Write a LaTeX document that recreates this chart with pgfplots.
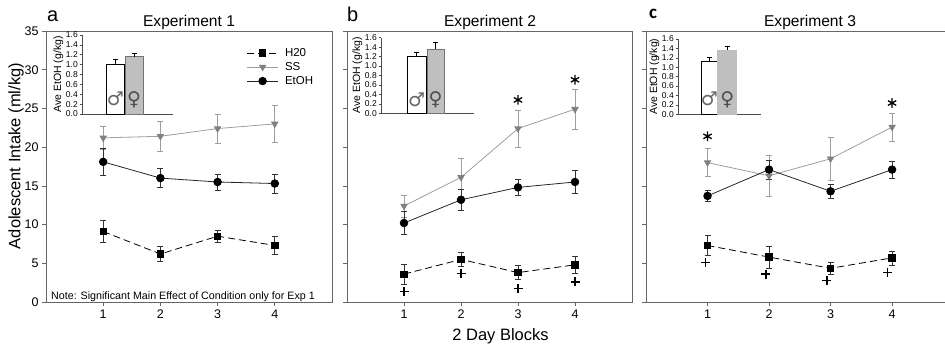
\documentclass[border=0pt]{standalone}
\usepackage{pgfplots}
\pgfplotsset{compat=1.18}
\usepackage{fontspec}
\setmainfont{Liberation Sans}
\newfontfamily\dejavu{DejaVu Sans}
\newfontfamily\carlito{Carlito}
\definecolor{axgray}{gray}{0.4}
\definecolor{ssline}{gray}{0.62}
\definecolor{ssmark}{gray}{0.5}
\definecolor{barfill}{gray}{0.75}
\pgfplotsset{
  mainax/.style={
    scale only axis, height=271pt, ymin=0, ymax=35, xmin=0, xmax=5,
    xtick={1,2,3,4}, ytick={0,5,10,15,20,25,30,35},
    tick align=outside, xtick pos=bottom, ytick pos=left, major tick length=4pt,
    axis line style={draw=axgray, line width=0.7pt},
    every tick/.style={axgray, line width=0.6pt},
    tick label style={font=\fontsize{12.5}{12.5}\selectfont, /pgf/number format/assume math mode=true},
    clip=false,
  },
  h2o/.style={black, dash pattern=on 7pt off 4pt, line width=0.8pt, mark=square*, mark size=3.2pt,
    mark options={solid, fill=black},
    error bars/y dir=both, error bars/y explicit,
    error bars/error bar style={solid, line width=0.6pt, black!80},
    error bars/error mark options={solid, rotate=90, mark size=3pt, line width=0.6pt, black!80}},
  ss/.style={ssline, line width=0.8pt, mark=triangle*, mark size=3.6pt,
    mark options={solid, rotate=180, fill=ssmark, draw=ssmark},
    error bars/y dir=both, error bars/y explicit,
    error bars/error bar style={solid, line width=0.6pt, ssline},
    error bars/error mark options={solid, rotate=90, mark size=3pt, line width=0.6pt, ssline}},
  etoh/.style={black!85, line width=0.8pt, mark=*, mark size=3.8pt,
    mark options={solid, fill=black, draw=black},
    error bars/y dir=both, error bars/y explicit,
    error bars/error bar style={solid, line width=0.6pt, black!80},
    error bars/error mark options={solid, rotate=90, mark size=3pt, line width=0.6pt, black!80}},
  plusm/.style={only marks, mark=+, mark size=4.5pt, black, line width=1.3pt},
  starm/.style={only marks, mark=asterisk, mark size=4.8pt, black, line width=1.3pt},
  inset/.style={scale only axis, xmin=0, ymin=0, ymax=1.6,
    axis x line*=bottom, axis y line*=left, xtick=\empty,
    ytick={0,0.2,0.4,0.6,0.8,1.0,1.2,1.4,1.6},
    tick align=outside, major tick length=2.5pt,
    axis line style={black!70, line width=0.6pt},
    every tick/.style={black!70, line width=0.5pt},
    yticklabel style={font=\fontsize{8.5}{8.5}\selectfont, inner sep=1.5pt,
      /pgf/number format/fixed, /pgf/number format/fixed zerofill,
      /pgf/number format/precision=1, /pgf/number format/assume math mode=true},
    ylabel={Ave EtOH (g/kg)},
    ylabel style={font=\fontsize{10.5}{10.5}\selectfont, inner sep=1pt},
    clip=false},
  wbar/.style={ybar, bar width=#1, bar shift=0pt, fill=white, draw=black, line width=0.6pt,
    error bars/y dir=plus, error bars/y explicit,
    error bars/error bar style={black, line width=0.6pt},
    error bars/error mark options={rotate=90, mark size=2.5pt, black, line width=0.6pt}},
  wbar/.default=17.5pt,
  gbar/.style={ybar, bar width=#1, bar shift=0pt, fill=barfill, draw=black!55, line width=0.5pt,
    error bars/y dir=plus, error bars/y explicit,
    error bars/error bar style={black, line width=0.6pt},
    error bars/error mark options={rotate=90, mark size=2.5pt, black, line width=0.6pt}},
  gbar/.default=17.5pt,
}
\newcommand{\sexsym}{\dejavu\fontsize{19}{19}\selectfont}
\begin{document}
\begin{tikzpicture}[x=1pt,y=1pt]
\useasboundingbox (0,0) rectangle (945,350);
% ---------------- Panel a
\begin{axis}[mainax, at={(46pt,48pt)}, anchor=south west, width=286pt,
  legend style={at={(0.6906,0.95)}, anchor=north west, draw=none, fill=none,
    font=\fontsize{11.5}{12}\selectfont, nodes={inner sep=1.5pt}, row sep=1.5pt, column sep=5pt},
  legend cell align=left,
  legend image code/.code={\draw[mark repeat=2,mark phase=2,#1] plot coordinates {(0pt,0pt)(15.5pt,0pt)(31pt,0pt)};}]
\addplot[h2o] coordinates {(1,9.1) +- (0,1.4) (2,6.2) +- (0,1.0) (3,8.5) +- (0,0.75) (4,7.3) +- (0,1.2)};
\addlegendentry{H20}
\addplot[ss] coordinates {(1,21.2) +- (0,1.5) (2,21.4) +- (0,2.0) (3,22.4) +- (0,1.85) (4,23.0) +- (0,2.35)};
\addlegendentry{SS}
\addplot[etoh] coordinates {(1,18.1) +- (0,1.7) (2,16.0) +- (0,1.25) (3,15.5) +- (0,1.05) (4,15.3) +- (0,1.2)};
\addlegendentry{EtOH}
\end{axis}
% ---------------- Panel b
\begin{axis}[mainax, at={(347pt,48pt)}, anchor=south west, width=285pt, yticklabels={}]
\addplot[h2o] coordinates {(1,3.6) +- (0,1.25) (2,5.5) +- (0,0.95) (3,3.8) +- (0,0.9) (4,4.8) +- (0,1.15)};
\addplot[ss] coordinates {(1,12.4) +- (0,1.4) (2,16.1) +- (0,2.4) (3,22.4) +- (0,2.4) (4,24.9) +- (0,2.55)};
\addplot[etoh] coordinates {(1,10.2) +- (0,1.45) (2,13.2) +- (0,1.4) (3,14.8) +- (0,1.0) (4,15.5) +- (0,1.5)};
\addplot[starm] coordinates {(3,26.1) (4,28.7)};
\addplot[plusm] coordinates {(1,1.33) (2,3.7) (3,1.77) (4,2.6)};
\end{axis}
% ---------------- Panel c
\begin{axis}[mainax, at={(646pt,48pt)}, anchor=south west, width=299pt, xmax=4.86, yticklabels={}]
\addplot[h2o] coordinates {(1,7.3) +- (0,1.25) (2,5.8) +- (0,1.4) (3,4.35) +- (0,0.8) (4,5.7) +- (0,0.9)};
\addplot[ss] coordinates {(1,18.0) +- (0,1.8) (2,16.3) +- (0,2.6) (3,18.5) +- (0,2.8) (4,22.6) +- (0,1.8)};
\addplot[etoh] coordinates {(1,13.7) +- (0,0.7) (2,17.1) +- (0,1.2) (3,14.3) +- (0,0.9) (4,17.1) +- (0,1.1)};
\addplot[starm] coordinates {(1,21.4) (4,25.7)};
\addplot[plusm] coordinates {(0.97,5.1) (1.95,3.6) (2.94,2.75) (3.93,3.8)};
\end{axis}
% ---------------- Insets
\begin{axis}[inset, at={(82pt,236pt)}, anchor=south west, width=91pt, height=79pt, xmax=91]
\addplot[wbar] coordinates {(33.5,1.0) +- (0,0.11)};
\addplot[gbar] coordinates {(52,1.16) +- (0,0.06)};
\node[font=\sexsym, text=black!60, inner sep=0pt] at (axis cs:33.5,0.3) {♂};
\node[font=\sexsym, text=black!70, inner sep=0pt] at (axis cs:52,0.28) {♀};
\end{axis}
\begin{axis}[inset, at={(381pt,236.7pt)}, anchor=south west, width=93pt, height=75.6pt, xmax=93]
\addplot[wbar=18.5pt] coordinates {(35.7,1.2) +- (0,0.09)};
\addplot[gbar] coordinates {(54.5,1.36) +- (0,0.14)};
\node[font=\sexsym, text=black!60, inner sep=0pt] at (axis cs:35.7,0.28) {♂};
\node[font=\sexsym, text=black!70, inner sep=0pt] at (axis cs:54.5,0.28) {♀};
\end{axis}
\begin{axis}[inset, at={(678pt,235.7pt)}, anchor=south west, width=83pt, height=75.3pt, xmax=83]
\addplot[wbar=16.7pt] coordinates {(31.3,1.13) +- (0,0.08)};
\addplot[gbar=19pt, draw=barfill] coordinates {(49.2,1.37) +- (0,0.07)};
\node[font=\sexsym, text=black!60, inner sep=0pt] at (axis cs:31.3,0.32) {♂};
\node[font=\sexsym, text=black!70, inner sep=0pt] at (axis cs:49.2,0.3) {♀};
\end{axis}
% ---------------- Texts
\node[anchor=base, font=\fontsize{15.6}{16}\selectfont] at (189,323) {Experiment 1};
\node[anchor=base, font=\fontsize{15.6}{16}\selectfont] at (490,323) {Experiment 2};
\node[anchor=base, font=\fontsize{15.6}{16}\selectfont] at (810,323) {Experiment 3};
\node[anchor=base west, inner sep=0pt, font=\fontsize{20}{20}\selectfont] at (47,328) {a};
\node[anchor=base west, inner sep=0pt, font=\fontsize{20}{20}\selectfont] at (347,328) {b};
\node[anchor=base west, inner sep=0pt, font=\carlito\bfseries\fontsize{19}{19}\selectfont] at (649,331) {c};
\node[rotate=90, font=\fontsize{16.5}{17}\selectfont] at (16,194) {Adolescent Intake (ml/kg)};
\node[anchor=base, font=\fontsize{16.5}{17}\selectfont] at (500.5,9) {2 Day Blocks};
\node[font=\fontsize{10.7}{11}\selectfont] at (183,53) {Note: Significant Main Effect of Condition only for Exp 1};
\end{tikzpicture}
\end{document}
